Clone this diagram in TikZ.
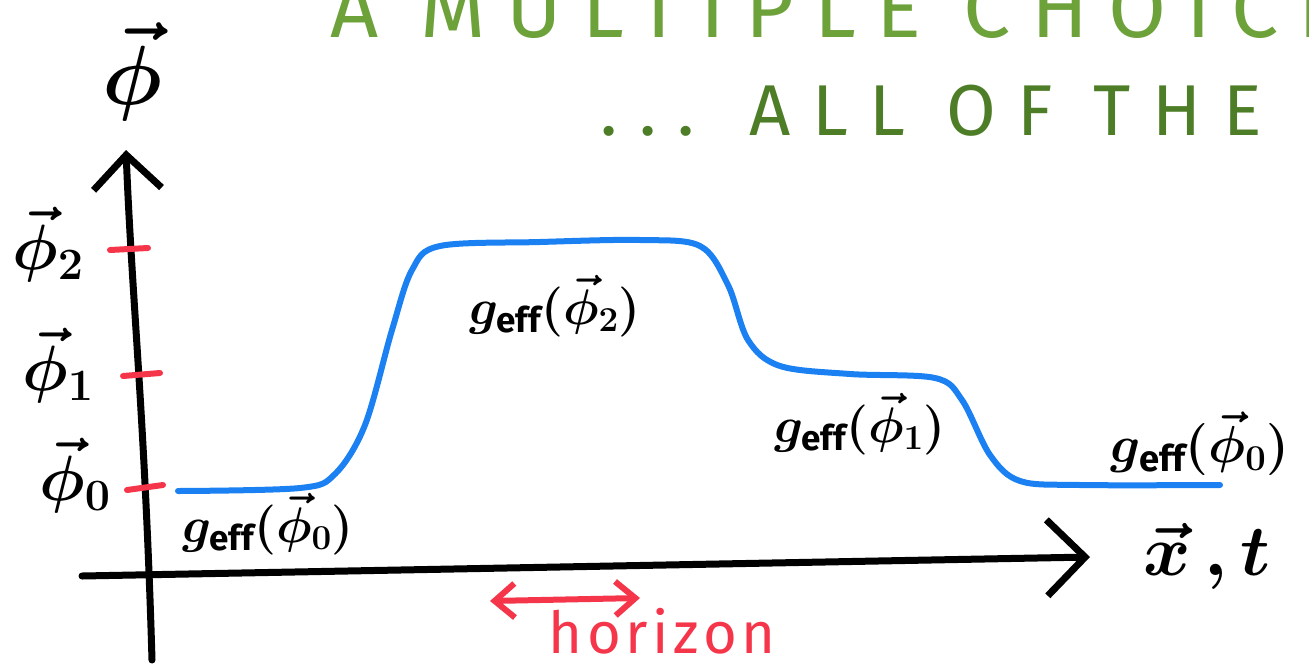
\RequirePackage{fix-cm}
\documentclass[tikz,border=0pt]{standalone}
\usepackage{amsmath,amssymb}
\usepackage{fontspec}
\setmainfont{Fira Sans}
\usepackage{xcolor}
\usetikzlibrary{arrows.meta,positioning,calc}

\definecolor{titlegreen}{HTML}{6DA13A}
\definecolor{subgreen}{HTML}{4E7D27}
\definecolor{markred}{HTML}{F5364A}
\definecolor{fieldblue}{HTML}{1B80F2}

\tikzset{
  axisline/.style={line width=7pt,line cap=round,line join=round,black},
  chev/.style={-{Straight Barb[length=#1,width=2*#1,line width=7pt]}},
  tickmark/.style={line width=6pt,line cap=round,markred},
  fieldcurve/.style={line width=6pt,line cap=round,fieldblue},
  sizetext/.style={font=\fontsize{#1}{#1}\selectfont\boldmath,inner sep=0pt},
}

\begin{document}
\begin{tikzpicture}[x=1pt,y=-1pt]
\useasboundingbox (0,0) rectangle (1309,665);
\clip (0,0) rectangle (1309,665);

% heading, cut off at the top and right
\node[anchor=base west,inner sep=0pt,text=titlegreen,
  font=\fontsize{84}{84}\selectfont\addfontfeatures{LetterSpace=24}] (title) at (330,37) {A MULTIPLE CHOICE};
\node[anchor=base west,inner sep=0pt,text=subgreen,
  font=\fontsize{72}{72}\selectfont\addfontfeatures{LetterSpace=30}] (subtitle) at (600,135) {... ALL OF THE};

% axes
\coordinate (ybot) at (152,660);
\coordinate (ytop) at (126,150);
\coordinate (xleft) at (82,576);
\coordinate (xright) at (1090,557);
\draw[axisline,chev=34pt] (ybot) .. controls (145,420) and (132,300) .. (ytop);
\draw[axisline,chev=38pt] (xleft) -- (xright);

% levels on the field axis
\draw[tickmark] (110,250) -- (148,248);
\draw[tickmark] (123,376) -- (160,373);
\draw[tickmark] (127,490) -- (163,485);

\node[sizetext=84] (phiaxis) at (132,72) {$\vec{\phi}$};
\node[sizetext=64] (phitwo) at (48,245) {$\vec{\phi}_2$};
\node[sizetext=64] (phione) at (58,366) {$\vec{\phi}_1$};
\node[sizetext=64] (phizero) at (75,476) {$\vec{\phi}_0$};
\node[sizetext=72] (xt) at (1207,556) {$\vec{x}\,,t$};

% the field profile
\draw[fieldcurve] plot[smooth,tension=0.55] coordinates {
  (178,491) (300,488) (335,474) (365,425) (392,330) (412,270) (440,246)
  (540,242) (640,240) (700,246) (728,285) (748,340) (780,366) (850,374)
  (935,378) (962,400) (990,455) (1020,481) (1080,485) (1220,485)};

\node[sizetext=50] (gtwo) at (555,306) {$g_{\mathrm{eff}}(\vec{\phi}_2)$};
\node[sizetext=50] (gone) at (860,424) {$g_{\mathrm{eff}}(\vec{\phi}_1)$};
\node[sizetext=52] (gzeroright) at (1200,444) {$g_{\mathrm{eff}}(\vec{\phi}_0)$};
\node[sizetext=50] (gzeroleft) at (268,524) {$g_{\mathrm{eff}}(\vec{\phi}_0)$};

% horizon marker
\coordinate (hleft) at (490,601);
\coordinate (hright) at (640,598);
\draw[line width=6pt,line cap=round,markred,
  {Straight Barb[length=20pt,width=34pt,line width=6pt]}-{Straight Barb[length=20pt,width=34pt,line width=6pt]}]
  (hleft) -- (hright);
\node[anchor=base,inner sep=0pt,text=markred,
  font=\fontsize{58}{58}\selectfont\addfontfeatures{LetterSpace=8}] (horizon) at (662,653) {horizon};
\end{tikzpicture}
\end{document}
